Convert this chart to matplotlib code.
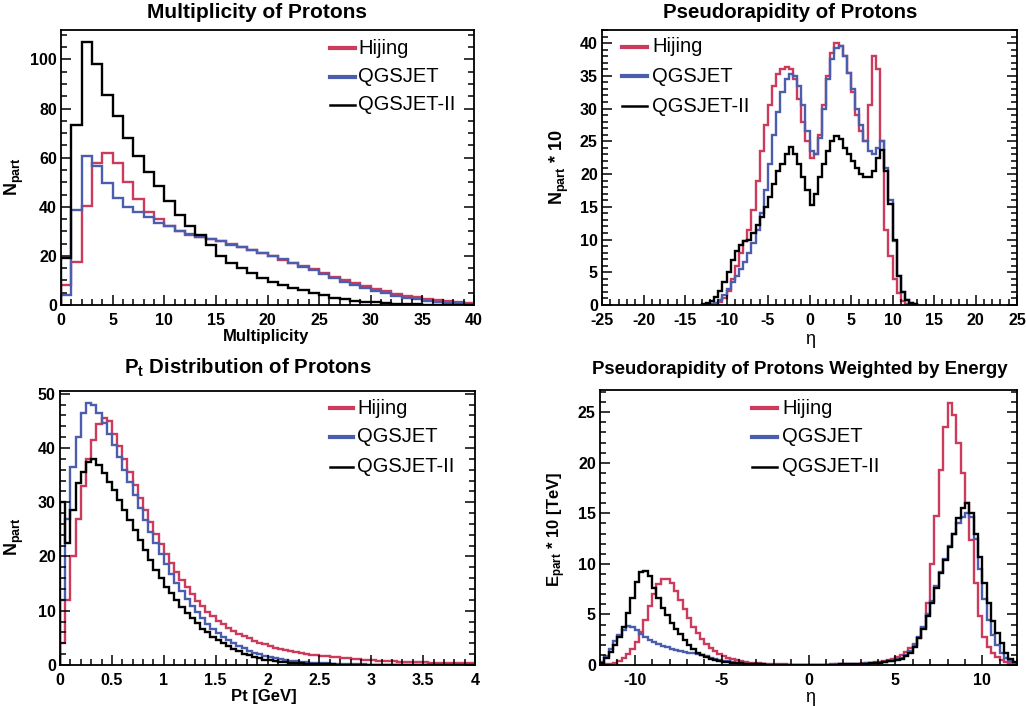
import numpy as np
import matplotlib
matplotlib.use('Agg')
import matplotlib.pyplot as plt
from matplotlib.lines import Line2D
from matplotlib.ticker import MultipleLocator, FormatStrFormatter

plt.rcParams['font.family'] = ['Liberation Sans', 'DejaVu Sans']
plt.rcParams['font.weight'] = 'bold'
plt.rcParams['mathtext.fontset'] = 'custom'
plt.rcParams['mathtext.rm'] = 'Liberation Sans'
plt.rcParams['mathtext.bf'] = 'Liberation Sans:bold'
plt.rcParams['mathtext.it'] = 'Liberation Sans:italic'
plt.rcParams['axes.unicode_minus'] = False

W, H = 1026, 706

models = ['Hijing', 'QGSJET', 'QGSJET-II']
colors = ['#cc3a5c', '#4b5eae', 'black']
legend_widths = [3.0, 3.0, 1.8]

# proton multiplicity, bins of 1 from 0 to 40
mult_edges = np.arange(0, 41, 1)
mult_hijing = [8, 17.5, 40.5, 58, 62, 58, 50, 43, 38, 35,
               32, 30, 28.5, 27.5, 26.8, 26, 24.8, 23.8, 22.6, 21.3,
               19.8, 18.5, 17.1, 15.8, 14.5, 13, 11.6, 10.2, 9, 7.8,
               6.6, 5.6, 4.6, 3.8, 3.1, 2.5, 2, 1.6, 1.2, 0.9]
mult_qgsjet = [4, 38.5, 60.5, 56.5, 49.8, 43.7, 40.1, 38, 36, 33.6,
               32, 30.2, 28.8, 27.7, 26.8, 25.9, 24.6, 23.5, 22.4, 21.3,
               20, 18.6, 17, 15.6, 14.3, 12.7, 11.2, 9.5, 8.2, 7,
               5.9, 4.8, 3.8, 3, 2.3, 1.8, 1.4, 1, 0.7, 0.4]
mult_qgsjet2 = [19, 73.5, 107, 98, 85.7, 76.9, 68, 60.5, 54, 48.3,
                42.2, 36.7, 32, 28.6, 24.5, 20, 17, 15, 13, 11,
                9.5, 8, 7, 6, 5, 4, 3, 2.5, 1.8, 1.4,
                1.1, 0.8, 0.6, 0.4, 0.3, 0.2, 0.15, 0.1, 0.05, 0.03]

# pseudorapidity, bins of 0.5 from -13 to 13 (N_part * 10)
eta_edges = np.arange(-13, 13.01, 0.5)
eta_hijing = [0, 0, 0.05, 0.15, 0.4, 1.0, 2.2, 4.0, 6.0, 8.0,
              9.8, 11.5, 14.5, 19.0, 23.5, 27.5, 30.5, 33.5, 35.3, 36.0,
              36.4, 36.0, 34.5, 31.5, 28.0, 25.0, 22.5, 23.0, 26.0, 30.5,
              35.0, 38.5, 40.0, 39.5, 38.0, 35.5, 32.5, 29.0, 26.5, 25.0,
              30.5, 38.0, 36.0, 25.0, 11.5, 7.5, 4.0, 1.8, 0.6, 0.2,
              0.05, 0]
eta_qgsjet = [0, 0, 0.1, 0.3, 0.8, 1.5, 2.5, 3.5, 4.5, 5.5,
              6.5, 8, 9.5, 11.5, 14, 17.5, 21.5, 26, 29.5, 32.5,
              34.5, 35.3, 35, 33.5, 30.5, 26.5, 23.5, 23, 25.5, 30,
              34.5, 37.5, 39.3, 39.5, 38, 35.5, 33, 30, 27.5, 25,
              23.5, 23, 24, 25, 21, 16, 9.8, 4.5, 2, 0.8,
              0.3, 0.1]
eta_qgsjet2 = [0.1, 0.3, 0.6, 1.2, 2.2, 3.5, 5, 6.8, 8.3, 9.2,
               9.8, 10, 11, 12.2, 13.5, 15, 16.5, 18.5, 20.5, 21.5,
               23, 24.2, 23, 21.5, 19.5, 17.5, 15.3, 17, 19.5, 21.5,
               23.5, 25, 25.8, 25.3, 24, 23, 22, 21, 20, 19.5,
               19.5, 20.5, 22.5, 23.7, 20.5, 15.5, 10, 4.5, 2, 0.8,
               0.3, 0.1]

# transverse momentum, bins of 0.05 GeV from 0 to 4
pt_edges = np.linspace(0, 4, 81)
pt_hijing = [4, 12, 20, 27, 33, 38, 41.5, 44.5, 45.5, 45,
             42.5, 40.3, 38, 35.6, 33.2, 30.8, 28.5, 26.3, 24.2, 22.3,
             20.5, 18.8, 17.2, 15.7, 14.3, 13.0, 11.8, 10.8, 9.8, 9.0,
             8.2, 7.5, 6.9, 6.3, 5.8, 5.3, 4.9, 4.5, 4.1, 3.8,
             3.5, 3.2, 2.95, 2.75, 2.55, 2.35, 2.2, 2.05, 1.9, 1.8,
             1.7, 1.6, 1.5, 1.4, 1.3, 1.22, 1.14, 1.06, 1.0, 0.94,
             0.88, 0.82, 0.77, 0.72, 0.68, 0.64, 0.6, 0.56, 0.53, 0.5,
             0.47, 0.44, 0.42, 0.4, 0.38, 0.36, 0.34, 0.32, 0.3, 0.29]
pt_qgsjet = [12, 27, 36.5, 42, 46.5, 48.2, 47.9, 46.5, 44.6, 42.6,
             40.5, 38.3, 36, 33.7, 31.3, 29, 26.8, 24.6, 22.5, 20.5,
             18.6, 16.8, 15.1, 13.6, 12.2, 10.9, 9.7, 8.6, 7.6, 6.7,
             5.9, 5.2, 4.6, 4.0, 3.5, 3.05, 2.65, 2.3, 2.0, 1.7,
             1.45, 1.25, 1.08, 0.93, 0.8, 0.69, 0.59, 0.51, 0.44, 0.38,
             0.33, 0.28, 0.24, 0.21, 0.18, 0.16, 0.14, 0.12, 0.1, 0.09,
             0.08, 0.07, 0.06, 0.055, 0.05, 0.045, 0.04, 0.035, 0.03, 0.03,
             0.025, 0.025, 0.02, 0.02, 0.02, 0.015, 0.015, 0.015, 0.01, 0.01]
pt_qgsjet2 = [30, 22.5, 28.5, 33.5, 35.6, 37.4, 37.9, 36.8, 35.3, 33.7,
              32.2, 30.4, 28.5, 26.7, 24.8, 23, 21.2, 19.3, 17.5, 16,
              14.4, 13.2, 12, 10.7, 9.5, 8.6, 7.7, 6.7, 6, 5.2,
              4.6, 4, 3.5, 3, 2.6, 2.1, 1.8, 1.5, 1.2, 1,
              0.85, 0.7, 0.6, 0.5, 0.42, 0.35, 0.3, 0.25, 0.2, 0.17,
              0.14, 0.12, 0.1, 0.08, 0.07, 0.06, 0.05, 0.04, 0.035, 0.03,
              0.025, 0.02, 0.02, 0.015, 0.015, 0.01, 0.01, 0.01, 0.01, 0.01,
              0.01, 0.005, 0.005, 0.005, 0.005, 0.005, 0.005, 0.005, 0.005, 0.005]

# energy weighted pseudorapidity, bins of 0.25 from -12 to 12 (E_part * 10 [TeV])
ew_edges = np.linspace(-12, 12, 97)
ew_hijing = [0, 0.05, 0.1, 0.2, 0.4, 0.7, 1.1, 1.6, 2.3, 3.3, 4.5, 5.8,
             7.0, 8.0, 8.55, 8.55, 8.1, 7.3, 6.4, 5.5, 4.6, 3.8, 3.2, 2.6,
             2.1, 1.7, 1.35, 1.1, 0.85, 0.7, 0.55, 0.45, 0.36, 0.3, 0.24, 0.19,
             0.15, 0.12, 0.1, 0.08, 0.07, 0.06, 0.05, 0.04, 0.04, 0.03, 0.03, 0.03,
             0.03, 0.03, 0.03, 0.04, 0.04, 0.05, 0.06, 0.07, 0.08, 0.1, 0.12, 0.14,
             0.17, 0.2, 0.24, 0.28, 0.33, 0.4, 0.5, 0.62, 0.8, 1.0, 1.3, 1.7,
             2.1, 2.7, 3.7, 6.1, 10, 14.7, 19.3, 23.5, 25.9, 24.7, 22, 19,
             16, 12.4, 8.1, 4.8, 2.8, 1.8, 1.2, 0.8, 0.5, 0.3, 0.2, 0.1]
ew_qgsjet = [0.3, 0.9, 1.6, 2.4, 3.0, 3.5, 3.9, 3.8, 3.5, 3.1, 2.8, 2.5,
             2.3, 2.1, 1.9, 1.75, 1.6, 1.45, 1.35, 1.25, 1.2, 1.15, 1.05, 0.95,
             0.85, 0.7, 0.6, 0.5, 0.42, 0.35, 0.28, 0.22, 0.17, 0.13, 0.1, 0.08,
             0.06, 0.05, 0.04, 0.03, 0.03, 0.02, 0.02, 0.02, 0.02, 0.02, 0.02, 0.02,
             0.02, 0.02, 0.02, 0.03, 0.03, 0.04, 0.05, 0.06, 0.07, 0.08, 0.1, 0.12,
             0.14, 0.17, 0.2, 0.24, 0.28, 0.34, 0.4, 0.48, 0.56, 0.7, 1.0, 1.4,
             2.0, 2.8, 3.8, 5.0, 6.3, 7.8, 9.2, 10.5, 11.8, 13, 14, 14.6,
             15, 14.6, 12.5, 9.5, 6.5, 4.5, 3.0, 2.0, 1.2, 0.7, 0.4, 0.2]
ew_qgsjet2 = [0.2, 0.7, 1.3, 2.0, 2.8, 3.8, 5.1, 6.6, 8.2, 9.2, 9.3, 8.8,
              7.6, 6.6, 5.6, 4.9, 4.2, 3.6, 3.1, 2.5, 2.0, 1.6, 1.2, 0.95,
              0.75, 0.6, 0.5, 0.4, 0.33, 0.27, 0.22, 0.18, 0.15, 0.12, 0.1, 0.08,
              0.06, 0.05, 0.04, 0.04, 0.03, 0.03, 0.02, 0.02, 0.02, 0.02, 0.02, 0.02,
              0.02, 0.02, 0.02, 0.03, 0.03, 0.04, 0.04, 0.05, 0.06, 0.07, 0.08, 0.1,
              0.12, 0.14, 0.17, 0.2, 0.24, 0.29, 0.35, 0.42, 0.5, 0.6, 0.9, 1.2,
              1.8, 2.7, 3.6, 4.8, 6.1, 7.6, 9.1, 10.4, 11.7, 13, 14.5, 15.5,
              16, 15, 13, 10.7, 8.1, 6.1, 4.4, 3.2, 2.2, 1.2, 0.6, 0.3]

fig = plt.figure(figsize=(W / 100, H / 100), dpi=100)


def fx(x):
    return x / W


def fy(y):
    return 1 - y / H


def make_axes(left, top, right, bottom):
    return fig.add_axes([fx(left), fy(bottom), (right - left) / W, (bottom - top) / H])


def style(ax, xlim, ylim, xmaj, xmin, ymaj, ymin, xfmt='%g'):
    ax.set_xlim(*xlim)
    ax.set_ylim(*ylim)
    ax.xaxis.set_major_locator(MultipleLocator(xmaj))
    ax.xaxis.set_minor_locator(MultipleLocator(xmin))
    ax.yaxis.set_major_locator(MultipleLocator(ymaj))
    ax.yaxis.set_minor_locator(MultipleLocator(ymin))
    ax.xaxis.set_major_formatter(FormatStrFormatter(xfmt))
    ax.tick_params(which='both', direction='in', right=True, top=False,
                   labelsize=11.5, width=1.1)
    ax.tick_params(axis='x', pad=6)
    ax.tick_params(axis='y', pad=3)
    ax.tick_params(which='major', length=7)
    ax.tick_params(which='minor', length=4)
    for s in ax.spines.values():
        s.set_linewidth(1.3)


def draw_hists(ax, edges, series):
    for vals, c in zip(series, colors):
        ax.stairs(vals, edges, color=c, lw=1.7, baseline=0)


def draw_legend(x0, x1, xt, ys):
    for name, c, lw, y in zip(models, colors, legend_widths, ys):
        fig.add_artist(Line2D([fx(x0), fx(x1)], [fy(y), fy(y)], color=c, lw=lw))
        fig.text(fx(xt), fy(y), name, fontsize=14.5, fontweight='normal',
                 ha='left', va='center')


# multiplicity
ax1 = make_axes(61, 30, 474, 305)
draw_hists(ax1, mult_edges, [mult_hijing, mult_qgsjet, mult_qgsjet2])
style(ax1, (0, 40), (0, 112), 5, 1, 20, 5)
fig.text(fx(257), fy(12), 'Multiplicity of Protons', fontsize=15, ha='center', va='center')
fig.text(fx(266), fy(336), 'Multiplicity', fontsize=12, ha='center', va='center')
fig.text(fx(14), fy(177), r'N$_{\mathbf{part}}$', fontsize=13, rotation=90, ha='center', va='center')
draw_legend(330, 355, 358, [48, 77, 105])

# pseudorapidity
ax2 = make_axes(602, 30, 1017, 305)
draw_hists(ax2, eta_edges, [eta_hijing, eta_qgsjet, eta_qgsjet2])
style(ax2, (-25, 25), (0, 42), 5, 1, 5, 1)
fig.text(fx(790), fy(12), 'Pseudorapidity of Protons', fontsize=14.7, ha='center', va='center')
fig.text(fx(810), fy(339), 'η', fontsize=13, fontweight='normal', ha='center', va='center')
fig.text(fx(559), fy(167), r'N$_{\mathbf{part}}$ * 10', fontsize=13, rotation=90, ha='center', va='center')
draw_legend(622, 647, 652, [47, 76, 106])

# transverse momentum
ax3 = make_axes(60, 391, 475, 665)
draw_hists(ax3, pt_edges, [pt_hijing, pt_qgsjet, pt_qgsjet2])
style(ax3, (0, 4), (0, 50.5), 0.5, 0.1, 10, 2)
fig.text(fx(248), fy(368), r'P$_{\mathbf{t}}$ Distribution of Protons', fontsize=14.7, ha='center', va='center')
fig.text(fx(264), fy(696), 'Pt [GeV]', fontsize=12, ha='center', va='center')
fig.text(fx(14), fy(537), r'N$_{\mathbf{part}}$', fontsize=13, rotation=90, ha='center', va='center')
draw_legend(330, 353, 357, [408, 437, 467])

# energy weighted pseudorapidity
ax4 = make_axes(600, 390, 1017, 665)
draw_hists(ax4, ew_edges, [ew_hijing, ew_qgsjet, ew_qgsjet2])
style(ax4, (-12, 12), (0, 27.2), 5, 1, 5, 1)
fig.text(fx(800), fy(370), 'Pseudorapidity of Protons Weighted by Energy', fontsize=13.4, ha='center', va='center')
fig.text(fx(810), fy(698), 'η', fontsize=13, fontweight='normal', ha='center', va='center')
fig.text(fx(557), fy(529), r'E$_{\mathbf{part}}$ * 10 [TeV]', fontsize=12, rotation=90, ha='center', va='center')
draw_legend(752, 777, 782, [408, 437, 467])

fig.savefig('out.png', dpi=100)
